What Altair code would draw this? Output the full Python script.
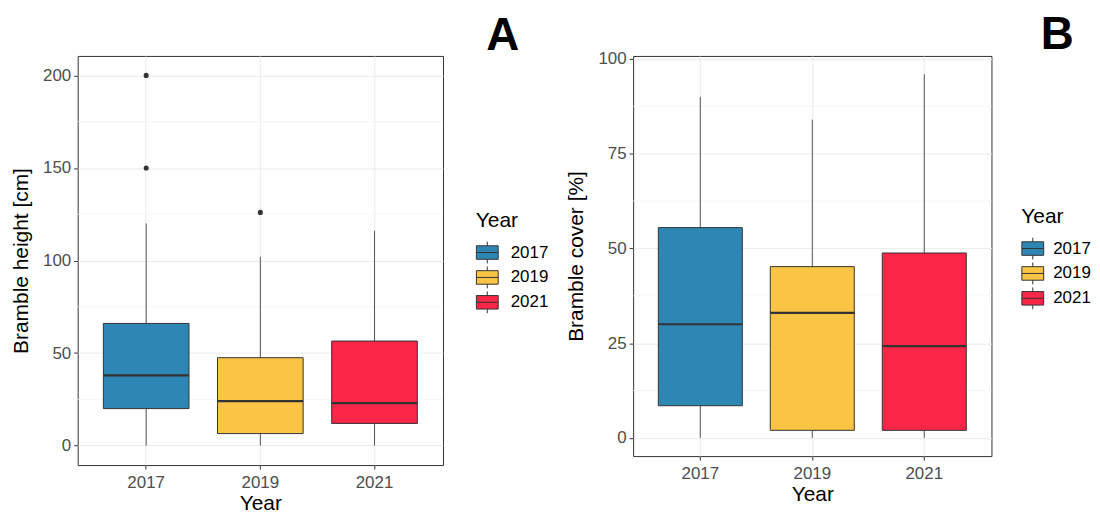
import altair as alt
import pandas as pd

years = ["2017", "2019", "2021"]
colors = ["#2E86B4", "#FAC545", "#F92647"]

# Panel A: bramble height [cm]
height_low = [0, 0, 0]
height_q1 = [20, 6.5, 12]
height_median = [38, 24, 23]
height_q3 = [66, 47.5, 56.5]
height_high = [120, 102, 116]
height_out_year = ["2017", "2017", "2019"]
height_out_value = [200, 150, 126]
height_ticks = [0, 50, 100, 150, 200]
height_minor = [25, 75, 125, 175]

# Panel B: bramble cover [%]
cover_low = [0, 0, 0]
cover_q1 = [8.5, 2, 2]
cover_median = [30, 33, 24.2]
cover_q3 = [55.5, 45.2, 48.8]
cover_high = [90, 84, 96]
cover_out_year = []
cover_out_value = []
cover_ticks = [0, 25, 50, 75, 100]
cover_minor = [12.5, 37.5, 62.5, 87.5]

FONT = "Liberation Sans"
LEGEND_SYMBOL = "M-1,-0.62H1V0.62H-1Z M-1,0H1 M0,-0.62V-1 M0,0.62V1"


def panel(low, q1, med, q3, high, out_year, out_value, ticks, minor,
          domain, ytitle, letter, w, h, legend_xy, letter_xy, label_offset):
    stats = pd.DataFrame({"Year": years, "low": low, "q1": q1, "median": med,
                          "q3": q3, "high": high})
    outl = pd.DataFrame({"Year": out_year, "value": out_value})
    grid = pd.DataFrame({"v": minor})

    xscale = alt.Scale(domain=years, paddingInner=0.25, paddingOuter=0.225)
    yscale = alt.Scale(domain=domain, nice=False, zero=False)
    xenc = alt.X("Year:N", scale=xscale, sort=years,
                 axis=alt.Axis(title="Year", labelAngle=0, grid=True))
    yaxis = alt.Axis(title=ytitle, values=ticks, grid=True)

    minor_layer = alt.Chart(grid).mark_rule(color="#F4F4F4", strokeWidth=0.8).encode(
        y=alt.Y("v:Q", scale=yscale, axis=yaxis)
    )
    whisk = alt.Chart(stats).mark_rule(color="#555555", strokeWidth=1).encode(
        x=xenc,
        y=alt.Y("low:Q", scale=yscale, axis=yaxis),
        y2="high:Q",
    )
    box = alt.Chart(stats).mark_bar(stroke="#333333", strokeWidth=1, opacity=1).encode(
        x=xenc,
        y=alt.Y("q1:Q", scale=yscale, axis=yaxis),
        y2="q3:Q",
        fill=alt.Fill("Year:N", scale=alt.Scale(domain=years, range=colors),
                      legend=alt.Legend(
                          title="Year", orient="none", padding=0,
                          legendX=legend_xy[0], legendY=legend_xy[1],
                          symbolType=LEGEND_SYMBOL, symbolSize=480,
                          symbolStrokeColor="#333333", symbolStrokeWidth=1,
                          symbolOpacity=1,
                          labelFontSize=17, labelColor="#000000", labelFont=FONT,
                          labelOffset=label_offset, rowPadding=-2,
                          titleFontSize=21, titleFontWeight="normal",
                          titleColor="#000000", titleFont=FONT, titlePadding=10,
                      )),
    )
    bw = w / 3.2 * 0.75
    median = alt.Chart(stats).mark_tick(color="#333333", thickness=2.2, size=bw,
                                        orient="horizontal", opacity=1).encode(
        x=xenc,
        y=alt.Y("median:Q", scale=yscale, axis=yaxis),
    )
    layers = [minor_layer, whisk, box, median]
    if len(out_value):
        pts = alt.Chart(outl).mark_point(filled=True, color="#333333", size=26,
                                         opacity=1).encode(
            x=xenc,
            y=alt.Y("value:Q", scale=yscale, axis=yaxis),
        )
        layers.append(pts)
    lab = alt.Chart(pd.DataFrame({"t": [letter]})).mark_text(
        font=FONT, fontSize=46, fontWeight="bold", color="#000000",
        align="center", baseline="alphabetic"
    ).encode(text="t:N", x=alt.value(letter_xy[0]), y=alt.value(letter_xy[1]))
    layers.append(lab)
    return alt.layer(*layers).properties(width=w, height=h)


a = panel(height_low, height_q1, height_median, height_q3, height_high,
          height_out_year, height_out_value, height_ticks, height_minor,
          [-10.5, 210.5], "Bramble height [cm]", "A", 367, 411,
          (400, 155), (427, -6), 12)
b = panel(cover_low, cover_q1, cover_median, cover_q3, cover_high,
          cover_out_year, cover_out_value, cover_ticks, cover_minor,
          [-4.8, 100.8], "Bramble cover [%]", "B", 360, 402,
          (390, 151), (426, -7), 9)

chart = alt.hconcat(a, b, spacing=16).resolve_scale(
    fill="independent"
).resolve_legend(
    fill="independent"
).properties(
    padding={"left": 2, "top": 2, "right": 0, "bottom": 0}
).configure(
    font=FONT
).configure_view(
    stroke="#333333", strokeWidth=1
).configure_axis(
    domain=False,
    tickColor="#333333", tickSize=4, tickWidth=1,
    labelColor="#4D4D4D", labelFontSize=17, labelFont=FONT,
    titleColor="#000000", titleFontSize=21, titleFontWeight="normal", titleFont=FONT,
    gridColor="#EBEBEB", gridWidth=1,
).configure_axisX(
    labelPadding=6, titlePadding=2
).configure_axisY(
    labelPadding=3, titlePadding=11
)

chart.save("out.html", embed_options={"renderer": "svg", "actions": False})
